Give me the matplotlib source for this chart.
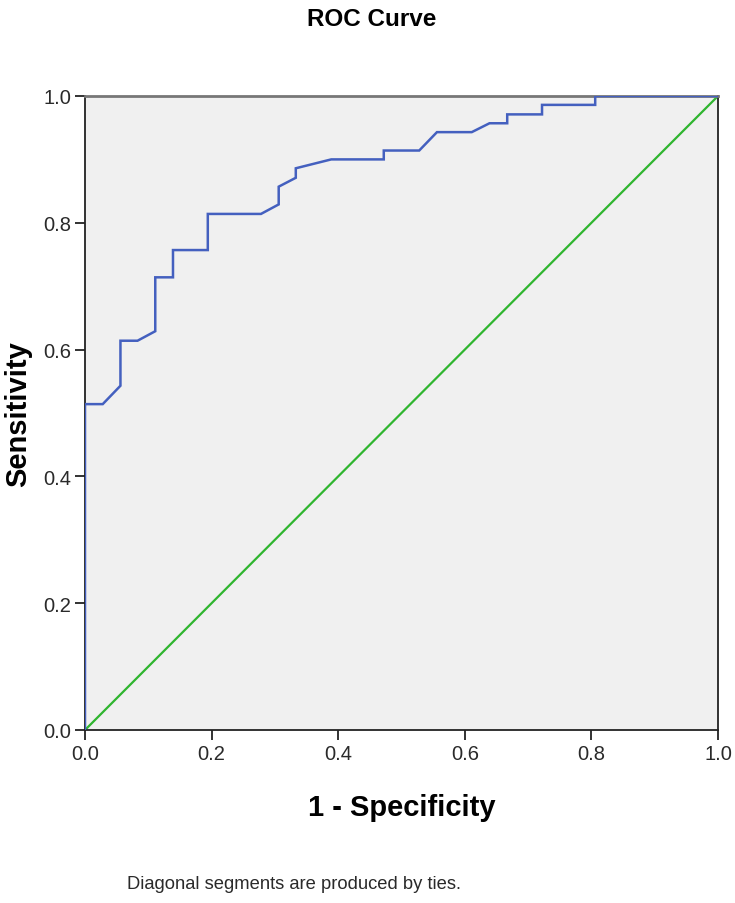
import numpy as np
import matplotlib
matplotlib.use('Agg')
import matplotlib.pyplot as plt

plt.rcParams['font.family'] = ['Liberation Sans', 'DejaVu Sans']

# ROC curve points (1 - specificity, sensitivity)
fpr = [0.0, 0.0, 0.028, 0.056, 0.056, 0.083, 0.111, 0.111, 0.139, 0.139,
       0.194, 0.194, 0.278, 0.306, 0.306, 0.333, 0.333, 0.389, 0.472, 0.472,
       0.528, 0.556, 0.611, 0.639, 0.667, 0.667, 0.722, 0.722, 0.806, 0.806,
       1.0]
tpr = [0.0, 0.514, 0.514, 0.543, 0.614, 0.614, 0.629, 0.714, 0.714, 0.757,
       0.757, 0.814, 0.814, 0.829, 0.857, 0.871, 0.886, 0.900, 0.900, 0.914,
       0.914, 0.943, 0.943, 0.957, 0.957, 0.971, 0.971, 0.986, 0.986, 1.0,
       1.0]

ref_line = [0.0, 1.0]
ticks = [0.0, 0.2, 0.4, 0.6, 0.8, 1.0]
tick_labels = ['0.0', '0.2', '0.4', '0.6', '0.8', '1.0']

fig = plt.figure(figsize=(7.35, 9.04), dpi=100)
ax = fig.add_axes([85 / 735, 1 - 731 / 904, 633 / 735, 634 / 904])

ax.set_facecolor('#f0f0f0')
ax.plot(ref_line, ref_line, color='#2fb52f', lw=1.6, zorder=2)
ax.plot(fpr, tpr, color='#4460bf', lw=1.8, zorder=3, solid_joinstyle='miter')

ax.set_xlim(0, 1)
ax.set_ylim(0, 1)
ax.set_xticks(ticks)
ax.set_xticklabels(tick_labels)
ax.set_yticks(ticks)
ax.set_yticklabels(tick_labels)
ax.tick_params(direction='out', length=7, width=1.3, colors='#222222',
               labelsize=14.5, labelcolor='#2a2a2a', pad=3)

for side in ['left', 'bottom', 'right']:
    ax.spines[side].set_color('#222222')
    ax.spines[side].set_linewidth(1.3)
ax.spines['top'].set_color('#777777')
ax.spines['top'].set_linewidth(2.0)

ax.set_xlabel('1 - Specificity', fontsize=21, fontweight='bold', labelpad=22)
ax.set_ylabel('Sensitivity', fontsize=21, fontweight='bold', labelpad=8)

fig.text(0.506, 1 - 19 / 904, 'ROC Curve', fontsize=17.5, fontweight='bold',
         ha='center', va='center')
fig.text(127 / 735, 1 - 885 / 904, 'Diagonal segments are produced by ties.',
         fontsize=13.2, color='#2a2a2a', ha='left', va='center')

plt.savefig('out.png', dpi=100)
